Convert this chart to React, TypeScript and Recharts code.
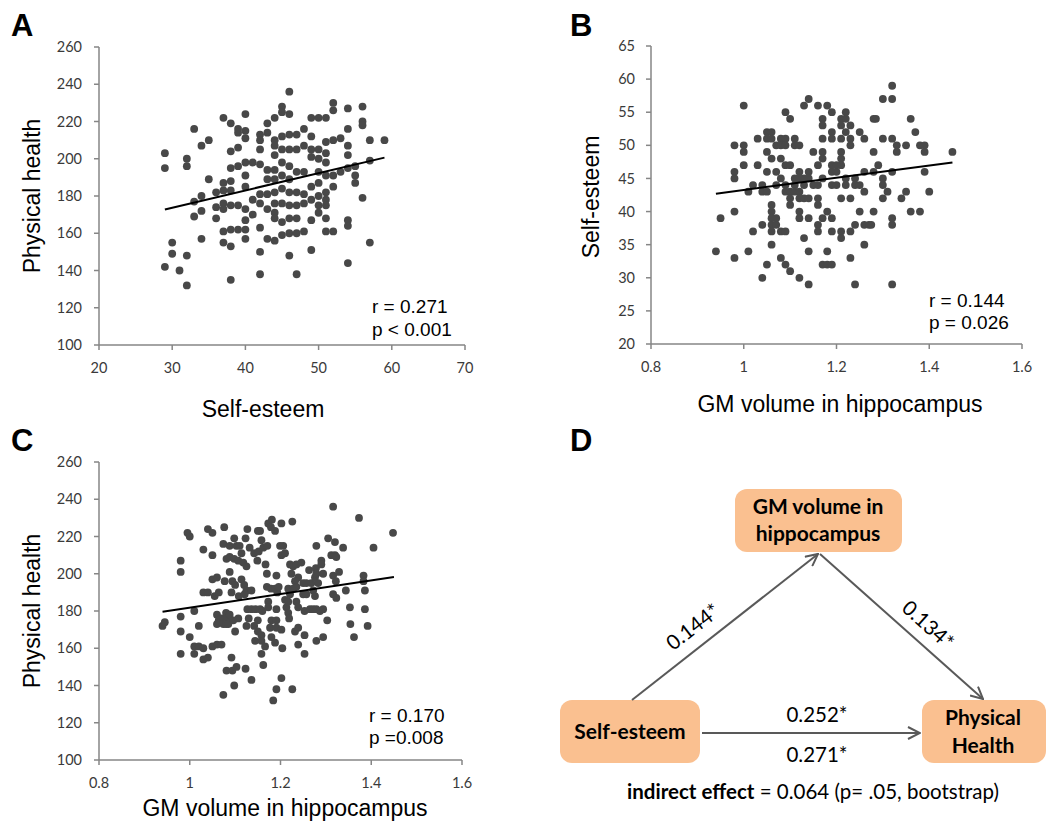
import React from 'react';
import { ScatterChart, Scatter, XAxis, YAxis } from 'recharts';

// Panel A: Self-esteem (x) vs Physical health (y)
const A_POINTS: [number, number][] = [
  [29, 203], [29, 195], [29, 142], [30, 155], [30, 149], [31, 140],
  [32, 200], [32, 196], [32, 148], [32, 132], [33, 216], [33, 177], [33, 169],
  [34, 207], [34, 180], [34, 172], [34, 157], [35, 210], [35, 189],
  [36, 182], [36, 174], [36, 168],
  [37, 222], [37, 187], [37, 183], [37, 176], [37, 173], [37, 161], [37, 155],
  [38, 219], [38, 204], [38, 195], [38, 188], [38, 183], [38, 175], [38, 162], [38, 153], [38, 135],
  [39, 216], [39, 214], [39, 206], [39, 196], [39, 175], [39, 162],
  [40, 224], [40, 215], [40, 211], [40, 198], [40, 191], [40, 185], [40, 173], [40, 167], [40, 162], [40, 157],
  [41, 198], [41, 178], [41, 170],
  [42, 213], [42, 210], [42, 205], [42, 197], [42, 181], [42, 176], [42, 163], [42, 150], [42, 138],
  [43, 219], [43, 214], [43, 194], [43, 189], [43, 181], [43, 173], [43, 157],
  [44, 222], [44, 210], [44, 207], [44, 202], [44, 194], [44, 189], [44, 182], [44, 176], [44, 171], [44, 168], [44, 156],
  [45, 228], [45, 225], [45, 212], [45, 205], [45, 198], [45, 191], [45, 184], [45, 176], [45, 166], [45, 159],
  [46, 236], [46, 224], [46, 213], [46, 205], [46, 196], [46, 189], [46, 182], [46, 175], [46, 168], [46, 160], [46, 148],
  [47, 213], [47, 205], [47, 193], [47, 182], [47, 175], [47, 168], [47, 160], [47, 138],
  [48, 216], [48, 207], [48, 193], [48, 181], [48, 176], [48, 161],
  [49, 222], [49, 212], [49, 205], [49, 201], [49, 185], [49, 178], [49, 167], [49, 151],
  [50, 222], [50, 205], [50, 200], [50, 193], [50, 187], [50, 180], [50, 175], [50, 171],
  [51, 222], [51, 209], [51, 203], [51, 198], [51, 191], [51, 182], [51, 178], [51, 175], [51, 168], [51, 161],
  [52, 230], [52, 226], [52, 210], [52, 191], [52, 185], [52, 161],
  [53, 211], [53, 193],
  [54, 227], [54, 216], [54, 207], [54, 202], [54, 195], [54, 167], [54, 164], [54, 144],
  [55, 196], [55, 191], [55, 187],
  [56, 228], [56, 220], [56, 218], [56, 179],
  [57, 210], [57, 199], [57, 155],
  [59, 210],
];
const A_TREND: [number, number][] = [[29, 172.8], [59, 200.6]];

// Panel B: GM volume (x) vs Self-esteem (y)
const B_POINTS: [number, number][] = [
  [0.94, 34], [0.95, 39], [0.98, 33], [0.98, 40], [0.98, 50], [1.0, 50], [1.0, 49], [1.0, 47], [0.98, 46], [0.98, 45],
  [1.01, 34], [1.0, 56], [1.01, 43], [1.02, 44], [1.03, 51], [1.03, 47], [1.02, 37], [1.04, 38], [1.04, 44], [1.04, 43],
  [1.05, 46], [1.05, 52], [1.06, 52], [1.05, 51], [1.06, 51], [1.05, 49], [1.06, 48], [1.05, 43], [1.06, 41], [1.06, 40],
  [1.06, 39], [1.06, 38], [1.06, 37], [1.06, 35], [1.05, 32], [1.04, 30], [1.07, 50], [1.07, 46], [1.07, 44], [1.07, 39],
  [1.07, 38], [1.08, 51], [1.08, 50], [1.08, 48], [1.08, 45], [1.08, 37], [1.08, 33], [1.09, 51], [1.09, 47], [1.09, 44],
  [1.09, 43], [1.09, 55], [1.1, 54], [1.09, 50], [1.09, 37], [1.09, 32], [1.1, 31], [1.1, 47], [1.1, 43], [1.1, 42],
  [1.1, 41], [1.11, 51], [1.11, 50], [1.11, 45], [1.11, 44], [1.11, 43], [1.12, 46], [1.12, 45], [1.12, 40], [1.12, 43],
  [1.12, 42], [1.12, 50], [1.12, 39], [1.12, 30], [1.13, 56], [1.14, 57], [1.13, 45], [1.13, 44], [1.13, 42], [1.13, 36],
  [1.14, 29], [1.14, 46], [1.14, 45], [1.14, 42], [1.14, 39], [1.14, 34], [1.15, 49], [1.15, 44], [1.16, 47], [1.16, 44],
  [1.16, 56], [1.16, 42], [1.16, 41], [1.16, 38], [1.16, 37], [1.17, 51], [1.17, 45], [1.17, 39], [1.17, 32], [1.17, 54],
  [1.17, 53], [1.17, 49], [1.17, 48], [1.18, 56], [1.18, 34], [1.18, 32], [1.18, 40], [1.19, 52], [1.19, 47], [1.19, 44],
  [1.19, 37], [1.19, 51], [1.19, 46], [1.19, 55], [1.19, 32],
  [1.21, 54], [1.21, 53], [1.22, 55], [1.22, 52], [1.22, 54], [1.21, 51], [1.21, 49], [1.21, 48], [1.21, 47], [1.2, 47],
  [1.2, 46], [1.23, 51], [1.23, 53], [1.23, 50], [1.2, 44], [1.22, 44], [1.22, 45], [1.24, 45], [1.24, 44], [1.21, 42],
  [1.23, 42], [1.19, 39], [1.21, 37], [1.21, 36], [1.23, 37], [1.24, 38], [1.23, 33], [1.24, 29], [1.25, 40], [1.26, 43],
  [1.25, 44], [1.26, 38], [1.27, 38], [1.275, 38], [1.28, 40], [1.26, 35], [1.25, 52], [1.26, 51], [1.26, 46], [1.28, 46],
  [1.28, 54], [1.285, 54], [1.28, 49], [1.29, 47], [1.3, 57], [1.3, 45], [1.3, 44], [1.31, 43], [1.3, 42], [1.3, 51],
  [1.32, 51], [1.32, 59], [1.32, 57], [1.32, 46], [1.32, 38], [1.32, 39], [1.33, 50], [1.33, 49], [1.32, 29], [1.35, 50],
  [1.34, 42], [1.35, 43], [1.36, 40], [1.38, 40], [1.36, 54], [1.37, 52], [1.38, 50], [1.39, 50], [1.39, 49], [1.39, 46],
  [1.4, 43], [1.45, 49],
];
const B_TREND: [number, number][] = [[0.94, 42.7], [1.45, 47.4]];

// Panel C: GM volume (x) vs Physical health (y)
const C_POINTS: [number, number][] = [
  [0.94, 172], [0.945, 174], [0.98, 207], [0.98, 201], [0.98, 177], [0.98, 169], [0.98, 157], [0.995, 222], [1.0, 220], [1.0, 166],
  [1.01, 180], [1.01, 161], [1.01, 157], [1.02, 172], [1.02, 161], [1.03, 160], [1.03, 213], [1.04, 224], [1.05, 222], [1.03, 154],
  [1.04, 155], [1.03, 190], [1.04, 190], [1.05, 197], [1.06, 198], [1.05, 210], [1.055, 188], [1.05, 161], [1.06, 162], [1.07, 162],
  [1.064, 190], [1.06, 178], [1.064, 175], [1.07, 176], [1.06, 173], [1.074, 173], [1.074, 216], [1.076, 225], [1.077, 196], [1.074, 135],
  [1.08, 179], [1.083, 176], [1.08, 173], [1.085, 173], [1.081, 208], [1.088, 215], [1.098, 219], [1.103, 215], [1.11, 215], [1.088, 201],
  [1.094, 196], [1.1, 194], [1.092, 190], [1.088, 178], [1.096, 175], [1.107, 176], [1.092, 155], [1.081, 148], [1.094, 148], [1.103, 150],
  [1.098, 140], [1.1, 169], [1.088, 209], [1.098, 208], [1.107, 207], [1.114, 211], [1.118, 206], [1.125, 204], [1.114, 197], [1.12, 194],
  [1.125, 191], [1.108, 188], [1.121, 189], [1.123, 219], [1.127, 224], [1.132, 214], [1.127, 181], [1.136, 181], [1.13, 176], [1.125, 172],
  [1.136, 191], [1.123, 149], [1.136, 143], [1.142, 211], [1.149, 207], [1.152, 212], [1.15, 223], [1.158, 218], [1.162, 214], [1.171, 215],
  [1.155, 223], [1.173, 227], [1.181, 229], [1.179, 225], [1.188, 223], [1.145, 181], [1.155, 181], [1.15, 175], [1.16, 180], [1.142, 172],
  [1.15, 169], [1.158, 167], [1.158, 164], [1.166, 161], [1.158, 157], [1.162, 151], [1.144, 164], [1.167, 205], [1.17, 200], [1.17, 193],
  [1.179, 192], [1.188, 192], [1.173, 185], [1.173, 182], [1.18, 175], [1.177, 171], [1.18, 166], [1.188, 163], [1.191, 199], [1.191, 138],
  [1.184, 132], [1.193, 190], [1.196, 193], [1.191, 181], [1.191, 175], [1.191, 171], [1.199, 215], [1.202, 227], [1.202, 210], [1.204, 160],
  [1.202, 144],
  [1.206, 215], [1.21, 211], [1.226, 228], [1.226, 138], [1.21, 186], [1.213, 182], [1.217, 179], [1.219, 176], [1.202, 170], [1.221, 205],
  [1.228, 204], [1.235, 205], [1.246, 206], [1.224, 200], [1.239, 198], [1.232, 196], [1.217, 192], [1.228, 192], [1.235, 193], [1.25, 195],
  [1.257, 195], [1.217, 185], [1.235, 185], [1.239, 182], [1.221, 189], [1.25, 189], [1.257, 189], [1.253, 180], [1.265, 181], [1.272, 181],
  [1.279, 181], [1.287, 180], [1.294, 181], [1.232, 169], [1.239, 171], [1.253, 167], [1.253, 157], [1.239, 162], [1.279, 164], [1.294, 166],
  [1.263, 202], [1.268, 195], [1.276, 198], [1.278, 203], [1.283, 195], [1.279, 200], [1.272, 191], [1.276, 188], [1.29, 207], [1.29, 205],
  [1.294, 200], [1.279, 215], [1.305, 219], [1.312, 210], [1.316, 236], [1.32, 217], [1.32, 210], [1.323, 209], [1.338, 214], [1.316, 199],
  [1.329, 201], [1.322, 196], [1.316, 189], [1.323, 187], [1.303, 175], [1.344, 191], [1.353, 182], [1.354, 173], [1.362, 166], [1.373, 230],
  [1.383, 199], [1.383, 196], [1.386, 191], [1.386, 181], [1.392, 172], [1.405, 214], [1.448, 222],
];
const C_TREND: [number, number][] = [[0.94, 179.6], [1.45, 198.3]];

const HEALTH_TICKS = [100, 120, 140, 160, 180, 200, 220, 240, 260];
const SELF_TICKS_X = [20, 30, 40, 50, 60, 70];
const SELF_TICKS_Y = [20, 25, 30, 35, 40, 45, 50, 55, 60, 65];
const GM_TICKS = [0.8, 1, 1.2, 1.4, 1.6];

const toObj = (pts: [number, number][]) => pts.map(([x, y]) => ({ x, y }));

const DOT = '#484848';
const AXIS = '#868686';
const TICK_STYLE = { fill: '#3a3a3a', fontSize: 14.5, fontFamily: 'Lato, sans-serif' };

type PanelProps = {
  left: number; top: number; width: number; height: number;
  margin: { top: number; right: number; bottom: number; left: number };
  yWidth: number; xHeight: number;
  xDomain: [number, number]; xTicks: number[];
  yDomain: [number, number]; yTicks: number[];
  yTickMargin: number;
  points: [number, number][]; trend: [number, number][];
};

function Panel(p: PanelProps) {
  return (
    <div style={{ position: 'absolute', left: p.left, top: p.top }}>
      <ScatterChart width={p.width} height={p.height} margin={p.margin}>
        <XAxis
          dataKey="x" type="number" domain={p.xDomain} ticks={p.xTicks} allowDataOverflow
          height={p.xHeight} tickSize={5} tickMargin={13}
          axisLine={{ stroke: AXIS, strokeWidth: 1.5 }} tickLine={{ stroke: AXIS, strokeWidth: 1.5 }}
          tick={TICK_STYLE} interval={0}
        />
        <YAxis
          dataKey="y" type="number" domain={p.yDomain} ticks={p.yTicks} allowDataOverflow
          width={p.yWidth} tickSize={5} tickMargin={p.yTickMargin}
          axisLine={{ stroke: AXIS, strokeWidth: 1.5 }} tickLine={{ stroke: AXIS, strokeWidth: 1.5 }}
          tick={TICK_STYLE} interval={0}
        />
        <XAxis xAxisId="top" orientation="top" type="number" domain={[0, 1]} height={0}
          tick={false} tickLine={false} axisLine={{ stroke: '#1a1a1a', strokeWidth: 2 }} />
        <YAxis yAxisId="right" orientation="right" type="number" domain={[0, 1]} width={0}
          tick={false} tickLine={false} axisLine={{ stroke: '#444', strokeWidth: 1.5 }} />
        <Scatter
          data={toObj(p.points)} isAnimationActive={false}
          shape={(s: any) => <circle cx={s.cx} cy={s.cy} r={3.9} fill={DOT} />}
        />
        <Scatter
          data={toObj(p.trend)} isAnimationActive={false}
          line={{ stroke: '#000', strokeWidth: 2 }}
          shape={() => <g />}
        />
      </ScatterChart>
    </div>
  );
}

const TITLE_FONT = '"Liberation Sans", Arial, sans-serif';
const CAL_FONT = 'Lato, sans-serif';

function Overlay() {
  const arrow = '#595959';
  const box = '#FAC090';
  return (
    <svg width={1063} height={824} style={{ position: 'absolute', left: 0, top: 0, pointerEvents: 'none' }}>
      <defs>
        <marker id="arr" viewBox="0 0 14 14" refX="13" refY="7" markerWidth="14" markerHeight="14"
          markerUnits="userSpaceOnUse" orient="auto">
          <path d="M1,1 L13,7 L1,13" fill="none" stroke={arrow} strokeWidth="2" />
        </marker>
      </defs>
      {/* panel letters */}
      <g fontFamily={TITLE_FONT} fontWeight="bold" fontSize={31} fill="#000">
        <text x={11} y={36}>A</text>
        <text x={570} y={36}>B</text>
        <text x={11} y={451}>C</text>
        <text x={570} y={451}>D</text>
      </g>
      {/* axis titles */}
      <g fontFamily={TITLE_FONT} fontSize={23} fill="#000" textAnchor="middle">
        <text x={40} y={196} transform="rotate(-90 40 196)">Physical health</text>
        <text x={263} y={417}>Self-esteem</text>
        <text x={599} y={197} transform="rotate(-90 599 197)">Self-esteem</text>
        <text x={840} y={412}>GM volume in hippocampus</text>
        <text x={40} y={611} transform="rotate(-90 40 611)">Physical health</text>
        <text x={285} y={816}>GM volume in hippocampus</text>
      </g>
      {/* statistics */}
      <g fontFamily={TITLE_FONT} fontSize={19} fill="#000">
        <text x={372} y={313}>r = 0.271</text>
        <text x={372} y={336}>p &lt; 0.001</text>
        <text x={929} y={307}>r = 0.144</text>
        <text x={929} y={329}>p = 0.026</text>
        <text x={369} y={722}>r = 0.170</text>
        <text x={369} y={744}>p =0.008</text>
      </g>
      {/* mediation diagram */}
      <rect x={735} y={489} width={167} height={63} rx={12} fill={box} />
      <rect x={560} y={700} width={140} height={63} rx={12} fill={box} />
      <rect x={922} y={700} width={124} height={63} rx={12} fill={box} />
      <g fontFamily={CAL_FONT} fontWeight="bold" fontSize={21} fill="#000" textAnchor="middle">
        <text x={818} y={514}>GM volume in</text>
        <text x={818} y={541}>hippocampus</text>
        <text x={630} y={739}>Self-esteem</text>
        <text x={983} y={725}>Physical</text>
        <text x={983} y={753}>Health</text>
      </g>
      <g stroke={arrow} strokeWidth={2} fill="none">
        <line x1={632} y1={700} x2={818} y2={554} markerEnd="url(#arr)" />
        <line x1={820} y1={554} x2={983} y2={699} markerEnd="url(#arr)" />
        <line x1={702} y1={733} x2={920} y2={733} markerEnd="url(#arr)" />
      </g>
      <g fontFamily={CAL_FONT} fontSize={20.5} fill="#000" textAnchor="middle">
        <text x={693} y={634} transform="rotate(-38 693 627)">0.144*</text>
        <text x={928} y={632} transform="rotate(42 928 625)">0.134*</text>
        <text x={817} y={722}>0.252*</text>
        <text x={817} y={762}>0.271*</text>
        <text x={813} y={799}>
          <tspan fontWeight="bold">indirect effect</tspan> = 0.064 (p= .05, bootstrap)
        </text>
      </g>
    </svg>
  );
}

export default function App() {
  return (
    <div style={{ position: 'absolute', left: 0, top: 0, width: 1063, height: 824, background: '#fff', overflow: 'hidden' }}>
      <Panel
        left={0} top={0} width={480} height={430}
        margin={{ top: 47, right: 15, bottom: 0, left: 0 }}
        yWidth={99} xHeight={85}
        xDomain={[20, 70]} xTicks={SELF_TICKS_X}
        yDomain={[100, 260]} yTicks={HEALTH_TICKS} yTickMargin={12}
        points={A_POINTS} trend={A_TREND}
      />
      <Panel
        left={540} top={0} width={500} height={430}
        margin={{ top: 46, right: 18, bottom: 0, left: 0 }}
        yWidth={111} xHeight={86}
        xDomain={[0.8, 1.6]} xTicks={GM_TICKS}
        yDomain={[20, 65]} yTicks={SELF_TICKS_Y} yTickMargin={11}
        points={B_POINTS} trend={B_TREND}
      />
      <Panel
        left={0} top={415} width={480} height={430}
        margin={{ top: 47, right: 18, bottom: 0, left: 0 }}
        yWidth={99} xHeight={85}
        xDomain={[0.8, 1.6]} xTicks={GM_TICKS}
        yDomain={[100, 260]} yTicks={HEALTH_TICKS} yTickMargin={12}
        points={C_POINTS} trend={C_TREND}
      />
      <Overlay />
    </div>
  );
}
